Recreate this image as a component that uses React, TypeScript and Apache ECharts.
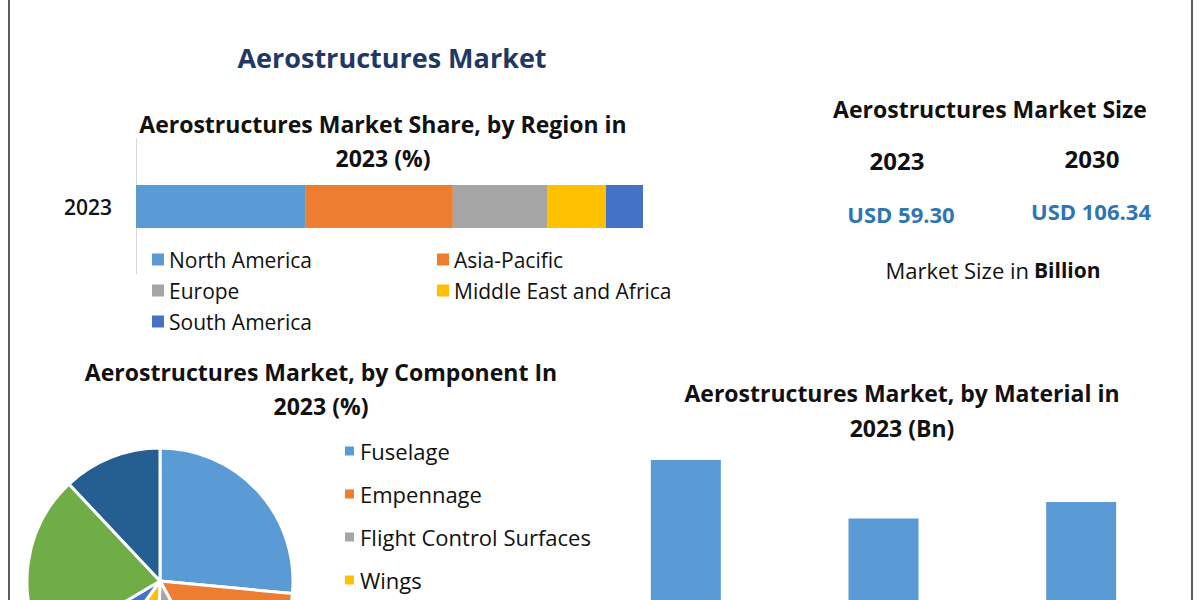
import React, { useEffect, useRef } from "react";
import * as echarts from "echarts";

// Region share (stacked bar, 2023, %)
const regionYear = ["2023"];
const regionNames = ["North America", "Asia-Pacific", "Europe", "Middle East and Africa", "South America"];
const regionValues = [33.5, 29.0, 18.7, 11.5, 7.3];
const regionColors = ["#5B9BD5", "#ED7D31", "#A5A5A5", "#FFC000", "#4472C4"];

// Component share (pie, 2023, %)
const componentNames = ["Fuselage", "Empennage", "Flight Control Surfaces", "Wings", "Nose", "Nacelle & Pylon", "Others"];
const componentValues = [26.5, 15.5, 8.5, 9.5, 6.5, 21.5, 12.0];
const componentColors = ["#5B9BD5", "#ED7D31", "#A5A5A5", "#FFC000", "#4472C4", "#70AD47", "#255E91"];
const componentLegend = ["Fuselage", "Empennage", "Flight Control Surfaces", "Wings"];

// Material (bars, 2023, Bn)
const materialNames = ["Composites", "Aluminum Alloys", "Titanium Alloys"];
const materialValues = [24.0, 16.6, 18.7];

// Market size
const sizeYears = ["2023", "2030"];
const sizeValues = ["USD 59.30", "USD 106.34"];

const FONT = "'Open Sans', 'Noto Sans', sans-serif";

function txt(x: number, y: number, text: string, size: number, weight: string | number, fill: string, align = "center", family = FONT) {
  return {
    type: "text",
    x,
    y,
    silent: true,
    style: {
      text,
      fontSize: size,
      fontWeight: weight,
      fontFamily: family,
      fill,
      textAlign: align,
      textVerticalAlign: "middle",
    },
  };
}

function legendItem(name: string, left: number, rowCenter: number, size: number, fontSize: number) {
  return {
    data: [name],
    orient: "vertical",
    left,
    top: rowCenter - 15,
    itemWidth: size,
    itemHeight: size,
    icon: "rect",
    selectedMode: false,
    textStyle: { fontSize, fontFamily: FONT, color: "#111", lineHeight: 20 },
  };
}

export default function App() {
  const ref = useRef<HTMLDivElement>(null);
  useEffect(() => {
    if (!ref.current) return;
    const chart = echarts.init(ref.current, undefined, { renderer: "svg" });
    const option: any = {
      animation: false,
      backgroundColor: "#ffffff",
      grid: [
        { left: 136, top: 139, width: 507, height: 135, containLabel: false },
        { left: 587, top: 412.5, width: 593, height: 237.5, containLabel: false, outerBoundsMode: "none" },
      ],
      xAxis: [
        { type: "value", gridIndex: 0, min: 0, max: 100, show: false },
        { type: "category", gridIndex: 1, data: materialNames, show: false },
      ],
      yAxis: [
        {
          type: "category",
          gridIndex: 0,
          data: regionYear,
          axisTick: { show: false },
          axisLine: { show: true, lineStyle: { color: "#D9D9D9", width: 1 } },
          axisLabel: { color: "#111", fontSize: 21, fontWeight: 600, fontFamily: FONT, margin: 24 },
        },
        { type: "value", gridIndex: 1, min: 0, max: 30, show: false, splitLine: { show: false } },
      ],
      legend: [
        legendItem("North America", 147, 259, 12, 21),
        legendItem("Europe", 147, 290, 12, 21),
        legendItem("South America", 147, 321, 12, 21),
        legendItem("Asia-Pacific", 432, 259, 12, 21),
        legendItem("Middle East and Africa", 432, 290, 12, 21),
        ...componentLegend.map((n, i) => legendItem(n, 338, 450 + i * 43, 11, 22)),
      ],
      series: [
        ...regionNames.map((name, i) => ({
          name,
          type: "bar",
          stack: "region",
          xAxisIndex: 0,
          yAxisIndex: 0,
          barWidth: 43,
          itemStyle: { color: regionColors[i] },
          emphasis: { disabled: true },
          data: [regionValues[i]],
        })),
        {
          name: "Component",
          type: "pie",
          center: [160, 581],
          radius: 133,
          startAngle: 90,
          clockwise: true,
          label: { show: false },
          labelLine: { show: false },
          emphasis: { disabled: true },
          itemStyle: { borderColor: "#ffffff", borderWidth: 3 },
          data: componentNames.map((name, i) => ({
            name,
            value: componentValues[i],
            itemStyle: { color: componentColors[i] },
          })),
        },
        {
          name: "Material",
          type: "bar",
          xAxisIndex: 1,
          yAxisIndex: 1,
          barWidth: 70,
          itemStyle: { color: "#5B9BD5" },
          emphasis: { disabled: true },
          data: materialValues,
        },
      ],
      graphic: [
        { type: "line", shape: { x1: 9, y1: 0, x2: 9, y2: 600 }, style: { stroke: "#5a5f66", lineWidth: 2 }, silent: true },
        { type: "line", shape: { x1: 1192, y1: 0, x2: 1192, y2: 600 }, style: { stroke: "#5a5f66", lineWidth: 2 }, silent: true },
        txt(392, 57, "Aerostructures Market", 27, 700, "#1F3864"),
        txt(383, 124, "Aerostructures Market Share, by Region in", 23, 700, "#111"),
        txt(383, 158, "2023 (%)", 23, 700, "#111"),
        txt(321, 372, "Aerostructures Market, by Component In", 23, 700, "#111"),
        txt(321, 406, "2023 (%)", 23, 700, "#111"),
        txt(902, 393, "Aerostructures Market, by Material in", 23, 700, "#111"),
        txt(902, 428, "2023 (Bn)", 23, 700, "#111"),
        txt(990, 109, "Aerostructures Market Size", 23, 700, "#111"),
        txt(897, 160, sizeYears[0], 24, 700, "#111"),
        txt(1092, 158, sizeYears[1], 24, 700, "#111"),
        txt(901, 214, sizeValues[0], 22, 700, "#2E75B6"),
        txt(1091, 211, sizeValues[1], 22, 700, "#2E75B6"),
        txt(1029, 270, "Market Size in", 22, 400, "#111", "right"),
        txt(1034, 270, "Billion", 21, 700, "#111", "left"),
      ],
    };
    chart.setOption(option);
    return () => chart.dispose();
  }, []);
  return (
    <div
      ref={ref}
      style={{ width: 1200, height: 600, position: "fixed", left: 0, top: 0, overflow: "hidden" }}
    />
  );
}
